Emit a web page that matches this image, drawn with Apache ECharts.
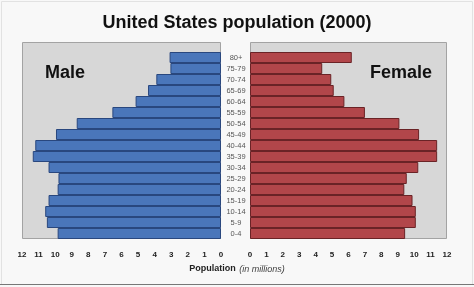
<!DOCTYPE html>
<html>
<head>
<meta charset="utf-8">
<script src="https://cdn.jsdelivr.net/npm/echarts@6/dist/echarts.min.js"></script>
<style>
  html, body { margin: 0; padding: 0; background: #f8f8f8; }
  #chart { width: 474px; height: 287px; }
</style>
</head>
<body>
<div id="chart"></div>
<script>
// age groups, top to bottom as drawn
const ageGroups = ['80+', '75-79', '70-74', '65-69', '60-64', '55-59', '50-54', '45-49',
  '40-44', '35-39', '30-34', '25-29', '20-24', '15-19', '10-14', '5-9', '0-4']
// millions
const male = [3.1, 3.05, 3.9, 4.4, 5.15, 6.55, 8.7, 9.95, 11.2, 11.35, 10.4, 9.8, 9.85, 10.4, 10.6, 10.5, 9.85]
const female = [6.2, 4.4, 4.95, 5.1, 5.75, 7.0, 9.1, 10.3, 11.4, 11.4, 10.25, 9.55, 9.4, 9.9, 10.1, 10.1, 9.45]
const xTicks = { min: 0, max: 12, interval: 1 }

const font = 'Liberation Sans, Arial, sans-serif'
const chart = echarts.init(document.getElementById('chart'))

const valueAxis = (gridIndex, inverse) => ({
  type: 'value',
  gridIndex,
  inverse,
  min: xTicks.min,
  max: xTicks.max,
  interval: xTicks.interval,
  axisLine: { show: false },
  axisTick: { show: false },
  splitLine: { show: false },
  axisLabel: { fontSize: 8, fontWeight: 'bold', color: '#222', fontFamily: font, margin: 12 },
})

const catAxis = (gridIndex, showLabels) => ({
  type: 'category',
  gridIndex,
  data: ageGroups,
  inverse: true,
  position: 'right',
  axisLine: { show: false },
  axisTick: { show: false },
  axisLabel: {
    show: showLabels,
    fontSize: 7.5,
    color: '#555',
    fontFamily: font,
    align: 'center',
    margin: 15,
  },
})

chart.setOption({
  animation: false,
  backgroundColor: '#f8f8f8',
  title: {
    text: 'United States population (2000)',
    left: 'center',
    top: 9,
    textStyle: { fontSize: 18, fontWeight: 'bold', color: '#111', fontFamily: font },
  },
  grid: [
    { left: 22, right: 253, top: 52, bottom: 48 },
    { left: 250, right: 27, top: 52, bottom: 48 },
  ],
  xAxis: [valueAxis(0, true), valueAxis(1, false)],
  yAxis: [catAxis(0, true), catAxis(1, false)],
  graphic: [
    { type: 'rect', z: -10, shape: { x: 1.5, y: 1.5, width: 471, height: 283 },
      style: { fill: 'none', stroke: '#e2e2e2', lineWidth: 1 } },
    { type: 'line', z: -10, shape: { x1: 0, y1: 284.5, x2: 474, y2: 284.5 },
      style: { stroke: '#777', lineWidth: 1 } },
    { type: 'rect', z: -5, shape: { x: 22.5, y: 42.5, width: 198, height: 196 },
      style: { fill: '#d7d7d7', stroke: '#a3a3a3', lineWidth: 1 } },
    { type: 'rect', z: -5, shape: { x: 250.5, y: 42.5, width: 196, height: 196 },
      style: { fill: '#d7d7d7', stroke: '#a3a3a3', lineWidth: 1 } },
    { type: 'text', left: 45, top: 64,
      style: { text: 'Male', fontSize: 18, fontWeight: 'bold', fill: '#111', font: 'bold 18px ' + font } },
    { type: 'text', left: 370, top: 64,
      style: { text: 'Female', fontSize: 18, fontWeight: 'bold', fill: '#111', font: 'bold 18px ' + font } },
    { type: 'text', left: 'center', top: 263,
      style: {
        text: '{a|Population} {b|(in millions)}',
        rich: {
          a: { fontSize: 9, fontWeight: 'bold', fill: '#222', fontFamily: font },
          b: { fontSize: 9, fontStyle: 'italic', fill: '#444', fontFamily: font },
        },
      } },
  ],
  series: [
    {
      name: 'Male',
      type: 'bar',
      xAxisIndex: 0,
      yAxisIndex: 0,
      data: male,
      barCategoryGap: 0,
      itemStyle: { color: '#4a76ba', borderColor: '#29477e', borderWidth: 1 },
    },
    {
      name: 'Female',
      type: 'bar',
      xAxisIndex: 1,
      yAxisIndex: 1,
      data: female,
      barCategoryGap: 0,
      itemStyle: { color: '#b2464a', borderColor: '#6a2326', borderWidth: 1 },
    },
  ],
})
</script>
</body>
</html>
